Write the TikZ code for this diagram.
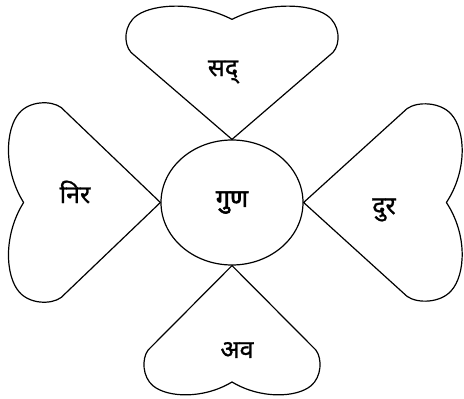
\documentclass[tikz,border=0pt]{standalone}
\usepackage{fontspec}
\newfontfamily\deva[Script=Devanagari, FakeBold=1]{Noto Sans}
\newfontfamily\devabold[Script=Devanagari, FakeBold=2.5]{Noto Sans}
\usetikzlibrary{shapes.geometric}

\tikzset{
  petal/.pic={
    \draw[line width=1.2pt, line join=round] (0,0) -- (-101,87)
      .. controls (-109,96) and (-108,115) .. (-95,124)
      .. controls (-78,136) and (-35,138) .. (0,120)
      .. controls (35,138) and (78,136) .. (95,124)
      .. controls (108,115) and (109,96) .. (101,87) -- cycle;
  }
}

\begin{document}
\begin{tikzpicture}[x=1pt, y=1pt,
    word/.style={font=\deva\fontsize{25}{30}\selectfont},
    core/.style={draw, ellipse, line width=1.2pt, minimum width=142pt, minimum height=125pt, inner sep=0pt,
      font=\devabold\fontsize{25}{30}\selectfont}
]
\useasboundingbox (0,0) rectangle (464,399);
\node[core] (guna) at (232,196.5) {गुण};
% the four hearts round the centre
\pic at (guna.north) {petal};
\pic[rotate=90, xscale=0.94, yscale=1.14] at (guna.west) {petal};
\pic[rotate=-90, xscale=0.93, yscale=1.19] at (guna.east) {petal};
\pic[rotate=180, xscale=0.83, yscale=0.97] at (guna.south) {petal};
\node[word] (sad) at (223,327) {सद्};
\node[word] (nir) at (75,207) {निर};
\node[word] (dur) at (384,189) {दुर};
\node[word] (ava) at (237,49) {अव};
\end{tikzpicture}
\end{document}
